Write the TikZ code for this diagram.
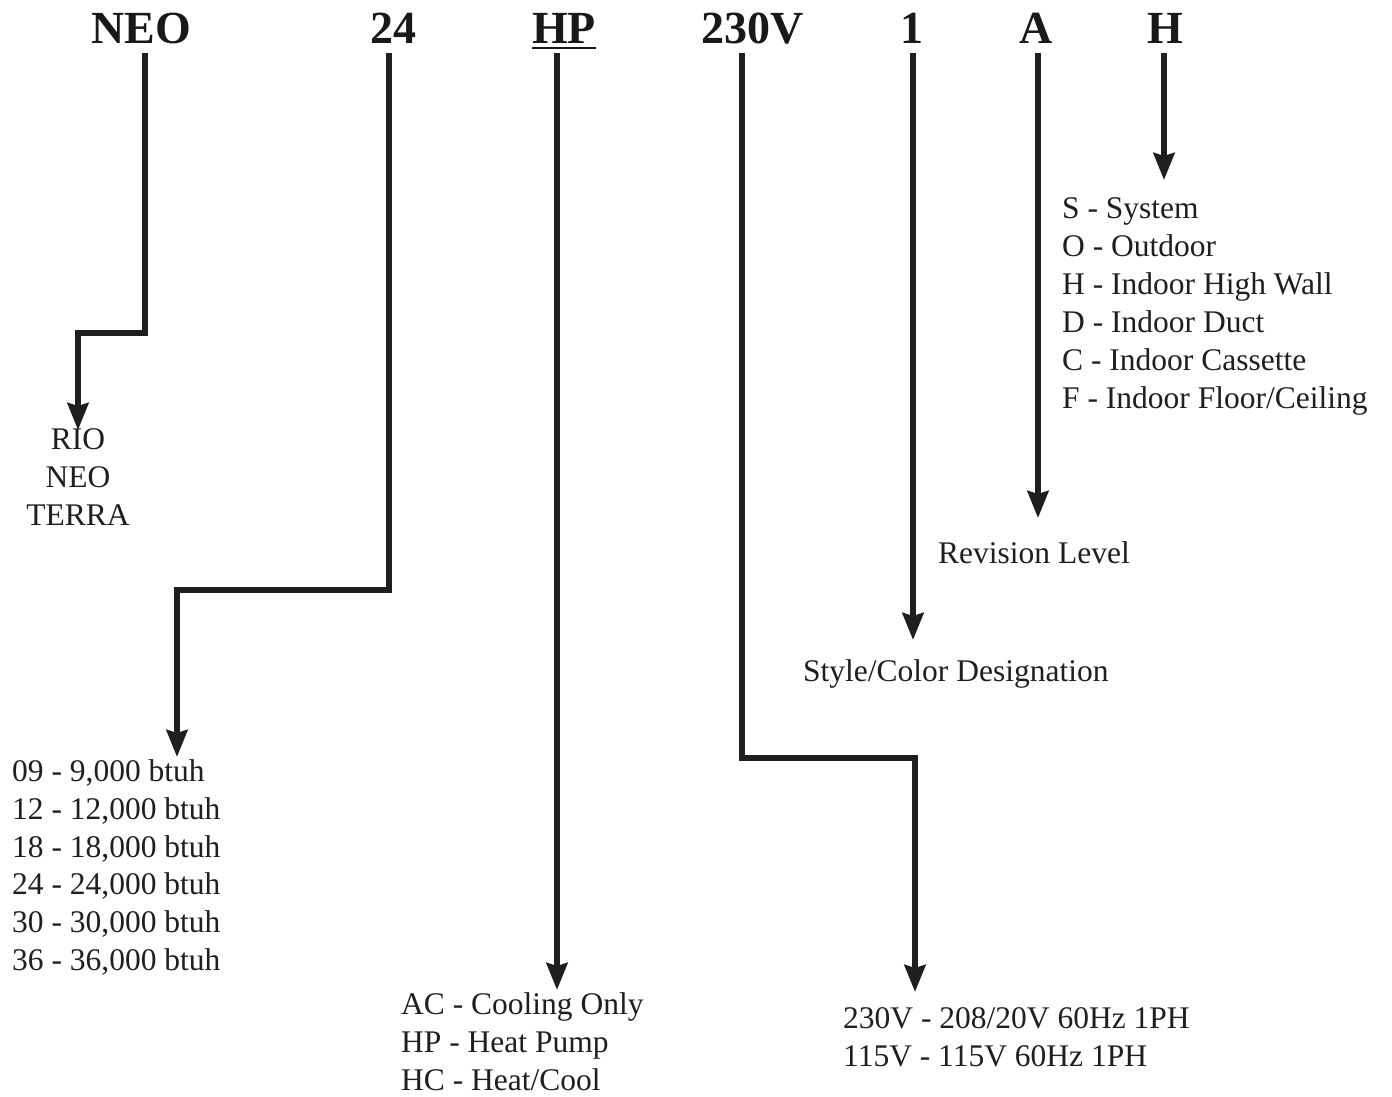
\documentclass[tikz,border=0pt]{standalone}
\usepackage{fontspec}
\setmainfont{Liberation Serif}
\usetikzlibrary{arrows.meta}
\begin{document}
\begin{tikzpicture}[x=1pt,y=1pt,
  hdr/.style={font=\fontsize{46}{50}\selectfont\bfseries, inner sep=0pt, anchor=base, text=black!90},
  lbl/.style={font=\fontsize{31.5}{36}\selectfont, inner sep=0pt, anchor=base west, text=black!88},
  lblc/.style={lbl, anchor=base},
  conn/.style={line width=5.5pt, draw=black!88, line join=miter, line cap=butt,
    -{Stealth[length=27pt,width=21pt,inset=3pt]}}]
\useasboundingbox (0,0) rectangle (1392,1096);
\fill[white] (0,0) rectangle (1392,1096);
% header
\node[hdr] (neo) at (141,1052) {NEO};
\node[hdr] (cap) at (393,1052) {24};
\node[hdr] (hp) at (564,1052) {HP};
\node[hdr] (volt) at (753,1052) {230V};
\node[hdr] (sty) at (912,1052) {1};
\node[hdr] (rev) at (1036,1052) {A};
\node[hdr] (typ) at (1165,1052) {H};
\draw[line width=2.5pt, draw=black!90] ([yshift=-4pt]hp.base west) -- ([yshift=-4pt]hp.base east);
% start points
\coordinate (neo0) at (145,1043);
\coordinate (cap0) at (389,1043);
\coordinate (hp0) at (557,1043);
\coordinate (volt0) at (742,1043);
\coordinate (sty0) at (913,1043);
\coordinate (rev0) at (1038,1043);
\coordinate (typ0) at (1164,1043);
% arrow tips
\coordinate (neoT) at (78,666);
\coordinate (capT) at (177,339);
\coordinate (hpT) at (557,106);
\coordinate (voltT) at (915,104);
\coordinate (styT) at (913,456);
\coordinate (revT) at (1038,578);
\coordinate (typT) at (1164,916);
% connectors
\draw[conn] (neo0) -- (145,763) -- (78,763) -- (neoT);
\draw[conn] (cap0) -- (389,506) -- (177,506) -- (capT);
\draw[conn] (hp0) -- (hpT);
\draw[conn] (volt0) -- (742,338) -- (915,338) -- (voltT);
\draw[conn] (sty0) -- (styT);
\draw[conn] (rev0) -- (revT);
\draw[conn] (typ0) -- (typT);
% H list
\node[lbl] (t1) at (1062,877) {S - System};
\node[lbl] (t2) at (1062,839) {O - Outdoor};
\node[lbl] (t3) at (1062,801) {H - Indoor High Wall};
\node[lbl] (t4) at (1062,763) {D - Indoor Duct};
\node[lbl] (t5) at (1062,725) {C - Indoor Cassette};
\node[lbl] (t6) at (1062,687) {F - Indoor Floor/Ceiling};
% series
\node[lblc] (s1) at (78,646) {RIO};
\node[lblc] (s2) at (78,608) {NEO};
\node[lblc] (s3) at (78,570) {TERRA};
% revision, style
\node[lbl] (rv) at (938,532) {Revision Level};
\node[lbl] (sc) at (803,414) {Style/Color Designation};
% capacity
\node[lbl] (c1) at (12,315) {09 - 9,000 btuh};
\node[lbl] (c2) at (12,277) {12 - 12,000 btuh};
\node[lbl] (c3) at (12,239) {18 - 18,000 btuh};
\node[lbl] (c4) at (12,202) {24 - 24,000 btuh};
\node[lbl] (c5) at (12,164) {30 - 30,000 btuh};
\node[lbl] (c6) at (12,126) {36 - 36,000 btuh};
% mode
\node[lbl] (m1) at (401,82) {AC - Cooling Only};
\node[lbl] (m2) at (401,44) {HP - Heat Pump};
\node[lbl] (m3) at (401,6) {HC - Heat/Cool};
% voltage
\node[lbl] (v1) at (843,68) {230V - 208/20V 60Hz 1PH};
\node[lbl] (v2) at (843,30) {115V - 115V 60Hz 1PH};
\end{tikzpicture}
\end{document}
